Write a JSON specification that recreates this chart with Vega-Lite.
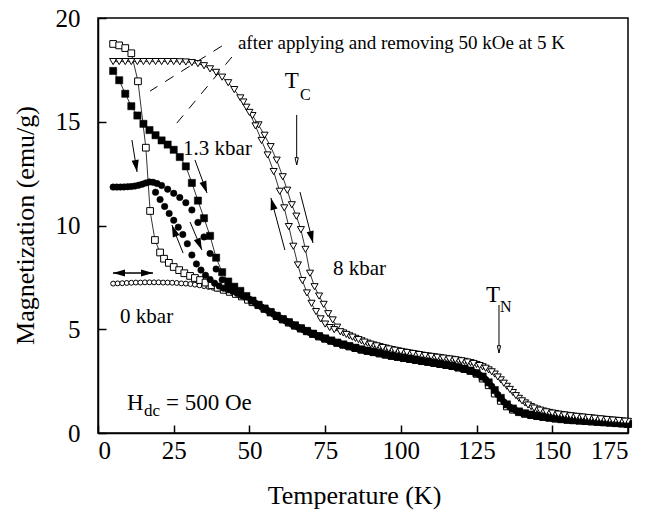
{
"$schema":"https://vega.github.io/schema/vega-lite/v6.json",
"width":530,"height":415,
"autosize":{"type":"none"},
"padding":{"left":98,"top":18,"right":22,"bottom":80},
"config":{"view":{"stroke":"black","strokeWidth":1.5},"font":"'Liberation Serif', 'Times New Roman', 'DejaVu Serif', serif",
"point":{"opacity":1},
"text":{"font":"'Liberation Serif', 'Times New Roman', 'DejaVu Serif', serif","color":"black"},
"axis":{"domainColor":"black","domainWidth":1.5,"tickColor":"black","tickWidth":1.5,"tickSize":-8,"labelColor":"black","titleColor":"black","grid":false,"labelFont":"'Liberation Serif', 'Times New Roman', 'DejaVu Serif', serif","titleFont":"'Liberation Serif', 'Times New Roman', 'DejaVu Serif', serif","labelFontSize":25,"titleFontSize":26,"titleFontWeight":"normal"}},
"datasets":{
"pts":[
{"s":"oc","t":5,"m":7.2},{"s":"oc","t":6.5,"m":7.21},{"s":"oc","t":8,"m":7.22},{"s":"oc","t":9.5,"m":7.23},{"s":"oc","t":11,"m":7.24},{"s":"oc","t":12.5,"m":7.25},{"s":"oc","t":14,"m":7.25},{"s":"oc","t":15.5,"m":7.26},{"s":"oc","t":17,"m":7.26},{"s":"oc","t":18.5,"m":7.26},{"s":"oc","t":20,"m":7.26},{"s":"oc","t":21.5,"m":7.25},{"s":"oc","t":23,"m":7.25},{"s":"oc","t":24.5,"m":7.24},{"s":"oc","t":26,"m":7.23},{"s":"oc","t":27.5,"m":7.21},{"s":"oc","t":29,"m":7.2},{"s":"oc","t":30.5,"m":7.18},{"s":"oc","t":32,"m":7.15},{"s":"oc","t":33.5,"m":7.12},{"s":"oc","t":35,"m":7.08},{"s":"oc","t":36.5,"m":7.04},{"s":"oc","t":38,"m":7.0},{"s":"oc","t":39.5,"m":6.95},{"s":"oc","t":41,"m":6.9},{"s":"oc","t":42.5,"m":6.84},{"s":"oc","t":44,"m":6.77},{"s":"oc","t":45.5,"m":6.69},{"s":"oc","t":47,"m":6.6},{"s":"oc","t":48.5,"m":6.52},{"s":"oc","t":50,"m":6.44},
{"s":"oc","t":52,"m":6.25},{"s":"oc","t":54,"m":6.07},{"s":"oc","t":56,"m":5.9},{"s":"oc","t":58,"m":5.72},{"s":"oc","t":60,"m":5.55},{"s":"oc","t":62,"m":5.4},{"s":"oc","t":64,"m":5.24},{"s":"oc","t":66,"m":5.1},{"s":"oc","t":68,"m":4.96},{"s":"oc","t":70,"m":4.83},{"s":"oc","t":72,"m":4.71},{"s":"oc","t":74,"m":4.6},{"s":"oc","t":76,"m":4.49},{"s":"oc","t":78,"m":4.39},{"s":"oc","t":80,"m":4.3},{"s":"oc","t":82,"m":4.21},{"s":"oc","t":84,"m":4.13},{"s":"oc","t":86,"m":4.05},{"s":"oc","t":88,"m":3.98},{"s":"oc","t":90,"m":3.92},{"s":"oc","t":92,"m":3.86},{"s":"oc","t":94,"m":3.8},{"s":"oc","t":96,"m":3.74},{"s":"oc","t":98,"m":3.69},{"s":"oc","t":100,"m":3.64},{"s":"oc","t":102,"m":3.59},{"s":"oc","t":104,"m":3.54},{"s":"oc","t":106,"m":3.49},{"s":"oc","t":108,"m":3.44},{"s":"oc","t":110,"m":3.4},{"s":"oc","t":112,"m":3.35},{"s":"oc","t":114,"m":3.3},{"s":"oc","t":116,"m":3.25},{"s":"oc","t":118,"m":3.19},{"s":"oc","t":120,"m":3.12},{"s":"oc","t":122,"m":3.04},{"s":"oc","t":124,"m":2.94},{"s":"oc","t":126,"m":2.8},{"s":"oc","t":128,"m":2.58},{"s":"oc","t":130,"m":2.25},{"s":"oc","t":132,"m":1.85},{"s":"oc","t":134,"m":1.5},{"s":"oc","t":136,"m":1.25},{"s":"oc","t":138,"m":1.08},{"s":"oc","t":140,"m":0.97},{"s":"oc","t":142,"m":0.9},{"s":"oc","t":144,"m":0.84},{"s":"oc","t":146,"m":0.79},{"s":"oc","t":148,"m":0.75},{"s":"oc","t":150,"m":0.71},{"s":"oc","t":152,"m":0.68},{"s":"oc","t":154,"m":0.65},{"s":"oc","t":156,"m":0.62},{"s":"oc","t":158,"m":0.6},{"s":"oc","t":160,"m":0.58},{"s":"oc","t":162,"m":0.56},{"s":"oc","t":164,"m":0.54},{"s":"oc","t":166,"m":0.52},{"s":"oc","t":168,"m":0.5},{"s":"oc","t":170,"m":0.48},{"s":"oc","t":172,"m":0.46},{"s":"oc","t":174,"m":0.44},
{"s":"os","t":5,"m":18.75},{"s":"os","t":7,"m":18.68},{"s":"os","t":9,"m":18.55},{"s":"os","t":11,"m":18.3},{"s":"os","t":13.2,"m":16.95},{"s":"os","t":15.8,"m":13.75},{"s":"os","t":17.2,"m":10.7},{"s":"os","t":18.8,"m":9.3},{"s":"os","t":20.5,"m":8.7},{"s":"os","t":21.8,"m":8.4},{"s":"os","t":23.4,"m":8.2},{"s":"os","t":25,"m":8.0},{"s":"os","t":26.8,"m":7.85},{"s":"os","t":28.5,"m":7.7},{"s":"os","t":30.4,"m":7.57},{"s":"os","t":32,"m":7.47},{"s":"os","t":33.7,"m":7.37},{"s":"os","t":35.5,"m":7.25},{"s":"os","t":37.5,"m":7.12},{"s":"os","t":39.5,"m":7.0},{"s":"os","t":41.5,"m":6.9},{"s":"os","t":43.5,"m":6.8},{"s":"os","t":45.5,"m":6.7},{"s":"os","t":47.5,"m":6.58},{"s":"os","t":49.5,"m":6.42},{"s":"os","t":51,"m":6.3},
{"s":"os","t":53,"m":6.16},{"s":"os","t":55,"m":5.98},{"s":"os","t":57,"m":5.81},{"s":"os","t":59,"m":5.63},{"s":"os","t":61,"m":5.47},{"s":"os","t":63,"m":5.32},{"s":"os","t":65,"m":5.17},{"s":"os","t":67,"m":5.03},{"s":"os","t":69,"m":4.9},{"s":"os","t":71,"m":4.77},{"s":"os","t":73,"m":4.65},{"s":"os","t":75,"m":4.54},{"s":"os","t":77,"m":4.44},{"s":"os","t":79,"m":4.34},{"s":"os","t":81,"m":4.25},{"s":"os","t":83,"m":4.17},{"s":"os","t":85,"m":4.09},{"s":"os","t":87,"m":4.01},{"s":"os","t":89,"m":3.95},{"s":"os","t":91,"m":3.89},{"s":"os","t":93,"m":3.83},{"s":"os","t":95,"m":3.77},{"s":"os","t":97,"m":3.71},{"s":"os","t":99,"m":3.66},{"s":"os","t":101,"m":3.61},{"s":"os","t":103,"m":3.56},{"s":"os","t":105,"m":3.51},{"s":"os","t":107,"m":3.46},{"s":"os","t":109,"m":3.42},{"s":"os","t":111,"m":3.37},{"s":"os","t":113,"m":3.32},{"s":"os","t":115,"m":3.27},{"s":"os","t":117,"m":3.22},{"s":"os","t":119,"m":3.15},{"s":"os","t":121,"m":3.08},{"s":"os","t":123,"m":2.99},{"s":"os","t":125,"m":2.85},{"s":"os","t":127,"m":2.62},{"s":"os","t":129,"m":2.3},{"s":"os","t":131,"m":1.9},{"s":"os","t":133,"m":1.55},{"s":"os","t":135,"m":1.28},{"s":"os","t":137,"m":1.12},{"s":"os","t":139,"m":1.0},{"s":"os","t":141,"m":0.92},{"s":"os","t":143,"m":0.86},{"s":"os","t":145,"m":0.81},{"s":"os","t":147,"m":0.77},{"s":"os","t":149,"m":0.73},{"s":"os","t":151,"m":0.69},{"s":"os","t":153,"m":0.66},{"s":"os","t":155,"m":0.63},{"s":"os","t":157,"m":0.61},{"s":"os","t":159,"m":0.59},{"s":"os","t":161,"m":0.57},{"s":"os","t":163,"m":0.55},{"s":"os","t":165,"m":0.53},{"s":"os","t":167,"m":0.51},{"s":"os","t":169,"m":0.49},{"s":"os","t":171,"m":0.47},{"s":"os","t":173,"m":0.45},{"s":"os","t":175,"m":0.43},
{"s":"fc","t":5,"m":11.85},{"s":"fc","t":6.2,"m":11.85},{"s":"fc","t":7.4,"m":11.85},{"s":"fc","t":8.6,"m":11.86},{"s":"fc","t":9.8,"m":11.87},{"s":"fc","t":11,"m":11.88},{"s":"fc","t":12.2,"m":11.9},{"s":"fc","t":13.4,"m":11.94},{"s":"fc","t":14.6,"m":11.99},{"s":"fc","t":15.8,"m":12.05},{"s":"fc","t":17,"m":12.1},{"s":"fc","t":18.2,"m":12.08},
{"s":"fc","t":19,"m":11.6},{"s":"fc","t":20.5,"m":11.25},{"s":"fc","t":22,"m":10.92},{"s":"fc","t":23.5,"m":10.58},{"s":"fc","t":25,"m":10.25},{"s":"fc","t":26.5,"m":9.92},{"s":"fc","t":28,"m":9.57},{"s":"fc","t":29.5,"m":9.12},{"s":"fc","t":31,"m":8.58},{"s":"fc","t":32.5,"m":8.15},{"s":"fc","t":34,"m":7.85},{"s":"fc","t":35.5,"m":7.6},{"s":"fc","t":37,"m":7.4},{"s":"fc","t":38.5,"m":7.22},{"s":"fc","t":40,"m":7.08},{"s":"fc","t":41.5,"m":6.98},{"s":"fc","t":43,"m":6.9},{"s":"fc","t":44.5,"m":6.82},{"s":"fc","t":46,"m":6.72},{"s":"fc","t":47.5,"m":6.62},
{"s":"fc","t":19.5,"m":12.02},{"s":"fc","t":21,"m":11.93},{"s":"fc","t":23,"m":11.75},{"s":"fc","t":25,"m":11.55},{"s":"fc","t":27,"m":11.35},{"s":"fc","t":29,"m":11.1},{"s":"fc","t":31,"m":10.75},{"s":"fc","t":33,"m":10.15},{"s":"fc","t":35,"m":9.45},{"s":"fc","t":37,"m":8.65},{"s":"fc","t":39,"m":7.9},{"s":"fc","t":41,"m":7.38},{"s":"fc","t":43,"m":7.08},{"s":"fc","t":45,"m":6.9},{"s":"fc","t":47,"m":6.74},{"s":"fc","t":49,"m":6.55},{"s":"fc","t":50.5,"m":6.4},
{"s":"fc","t":52,"m":6.25},{"s":"fc","t":54,"m":6.07},{"s":"fc","t":56,"m":5.9},{"s":"fc","t":58,"m":5.72},{"s":"fc","t":60,"m":5.55},{"s":"fc","t":62,"m":5.4},{"s":"fc","t":64,"m":5.24},{"s":"fc","t":66,"m":5.1},{"s":"fc","t":68,"m":4.96},{"s":"fc","t":70,"m":4.83},{"s":"fc","t":72,"m":4.71},{"s":"fc","t":74,"m":4.6},{"s":"fc","t":76,"m":4.49},{"s":"fc","t":78,"m":4.39},{"s":"fc","t":80,"m":4.3},{"s":"fc","t":82,"m":4.21},{"s":"fc","t":84,"m":4.13},{"s":"fc","t":86,"m":4.05},{"s":"fc","t":88,"m":3.98},{"s":"fc","t":90,"m":3.92},{"s":"fc","t":92,"m":3.86},{"s":"fc","t":94,"m":3.8},{"s":"fc","t":96,"m":3.74},{"s":"fc","t":98,"m":3.69},{"s":"fc","t":100,"m":3.64},{"s":"fc","t":102,"m":3.59},{"s":"fc","t":104,"m":3.54},{"s":"fc","t":106,"m":3.49},{"s":"fc","t":108,"m":3.44},{"s":"fc","t":110,"m":3.4},{"s":"fc","t":112,"m":3.35},{"s":"fc","t":114,"m":3.3},{"s":"fc","t":116,"m":3.25},{"s":"fc","t":118,"m":3.19},{"s":"fc","t":120,"m":3.12},{"s":"fc","t":122,"m":3.04},{"s":"fc","t":124,"m":2.94},{"s":"fc","t":126,"m":2.8},{"s":"fc","t":128,"m":2.58},{"s":"fc","t":130,"m":2.25},{"s":"fc","t":132,"m":1.85},{"s":"fc","t":134,"m":1.5},{"s":"fc","t":136,"m":1.25},{"s":"fc","t":138,"m":1.08},{"s":"fc","t":140,"m":0.97},{"s":"fc","t":142,"m":0.9},{"s":"fc","t":144,"m":0.84},{"s":"fc","t":146,"m":0.79},{"s":"fc","t":148,"m":0.75},{"s":"fc","t":150,"m":0.71},{"s":"fc","t":152,"m":0.68},{"s":"fc","t":154,"m":0.65},{"s":"fc","t":156,"m":0.62},{"s":"fc","t":158,"m":0.6},{"s":"fc","t":160,"m":0.58},{"s":"fc","t":162,"m":0.56},{"s":"fc","t":164,"m":0.54},{"s":"fc","t":166,"m":0.52},{"s":"fc","t":168,"m":0.5},{"s":"fc","t":170,"m":0.48},{"s":"fc","t":172,"m":0.46},{"s":"fc","t":174,"m":0.44},
{"s":"fs","t":5,"m":17.45},{"s":"fs","t":7,"m":17.0},{"s":"fs","t":9,"m":16.35},{"s":"fs","t":11,"m":15.75},{"s":"fs","t":13,"m":15.3},{"s":"fs","t":15,"m":14.9},{"s":"fs","t":17,"m":14.6},{"s":"fs","t":19,"m":14.35},{"s":"fs","t":21,"m":14.1},{"s":"fs","t":23,"m":13.9},{"s":"fs","t":25,"m":13.65},{"s":"fs","t":27,"m":13.3},{"s":"fs","t":29,"m":12.85},{"s":"fs","t":31,"m":12.05},{"s":"fs","t":33,"m":11.2},{"s":"fs","t":35,"m":10.35},{"s":"fs","t":37,"m":9.5},{"s":"fs","t":39,"m":8.45},{"s":"fs","t":41,"m":7.75},{"s":"fs","t":43,"m":7.3},{"s":"fs","t":45,"m":7.05},{"s":"fs","t":47,"m":6.85},{"s":"fs","t":49,"m":6.6},{"s":"fs","t":51,"m":6.38},
{"s":"fs","t":53,"m":6.18},{"s":"fs","t":55,"m":6.0},{"s":"fs","t":57,"m":5.83},{"s":"fs","t":59,"m":5.65},{"s":"fs","t":61,"m":5.49},{"s":"fs","t":63,"m":5.34},{"s":"fs","t":65,"m":5.19},{"s":"fs","t":67,"m":5.05},{"s":"fs","t":69,"m":4.92},{"s":"fs","t":71,"m":4.79},{"s":"fs","t":73,"m":4.67},{"s":"fs","t":75,"m":4.56},{"s":"fs","t":77,"m":4.46},{"s":"fs","t":79,"m":4.36},{"s":"fs","t":81,"m":4.27},{"s":"fs","t":83,"m":4.19},{"s":"fs","t":85,"m":4.11},{"s":"fs","t":87,"m":4.03},{"s":"fs","t":89,"m":3.97},{"s":"fs","t":91,"m":3.91},{"s":"fs","t":93,"m":3.85},{"s":"fs","t":95,"m":3.79},{"s":"fs","t":97,"m":3.73},{"s":"fs","t":99,"m":3.68},{"s":"fs","t":101,"m":3.63},{"s":"fs","t":103,"m":3.58},{"s":"fs","t":105,"m":3.53},{"s":"fs","t":107,"m":3.48},{"s":"fs","t":109,"m":3.44},{"s":"fs","t":111,"m":3.39},{"s":"fs","t":113,"m":3.34},{"s":"fs","t":115,"m":3.29},{"s":"fs","t":117,"m":3.24},{"s":"fs","t":119,"m":3.17},{"s":"fs","t":121,"m":3.1},{"s":"fs","t":123,"m":3.01},{"s":"fs","t":125,"m":2.89},{"s":"fs","t":127,"m":2.72},{"s":"fs","t":129,"m":2.44},{"s":"fs","t":131,"m":2.07},{"s":"fs","t":133,"m":1.69},{"s":"fs","t":135,"m":1.38},{"s":"fs","t":137,"m":1.18},{"s":"fs","t":139,"m":1.04},{"s":"fs","t":141,"m":0.95},{"s":"fs","t":143,"m":0.89},{"s":"fs","t":145,"m":0.83},{"s":"fs","t":147,"m":0.79},{"s":"fs","t":149,"m":0.75},{"s":"fs","t":151,"m":0.71},{"s":"fs","t":153,"m":0.68},{"s":"fs","t":155,"m":0.65},{"s":"fs","t":157,"m":0.63},{"s":"fs","t":159,"m":0.61},{"s":"fs","t":161,"m":0.59},{"s":"fs","t":163,"m":0.57},{"s":"fs","t":165,"m":0.55},{"s":"fs","t":167,"m":0.53},{"s":"fs","t":169,"m":0.51},{"s":"fs","t":171,"m":0.49},{"s":"fs","t":173,"m":0.47},{"s":"fs","t":175,"m":0.45},
{"s":"tw","t":5,"m":17.9},{"s":"tw","t":7,"m":17.9},{"s":"tw","t":9,"m":17.9},{"s":"tw","t":11,"m":17.9},{"s":"tw","t":13,"m":17.9},{"s":"tw","t":15,"m":17.9},{"s":"tw","t":17,"m":17.9},{"s":"tw","t":19,"m":17.9},{"s":"tw","t":21,"m":17.9},{"s":"tw","t":23,"m":17.9},{"s":"tw","t":25,"m":17.9},{"s":"tw","t":27,"m":17.89},{"s":"tw","t":29,"m":17.88},{"s":"tw","t":31,"m":17.85},{"s":"tw","t":33,"m":17.8},{"s":"tw","t":35,"m":17.7},{"s":"tw","t":37,"m":17.55},{"s":"tw","t":39,"m":17.38},{"s":"tw","t":41,"m":17.15},{"s":"tw","t":43,"m":16.88},{"s":"tw","t":45,"m":16.55},{"s":"tw","t":47,"m":16.15},{"s":"tw","t":49,"m":15.7},
{"s":"tw","t":51,"m":15.3},{"s":"tw","t":53,"m":14.85},{"s":"tw","t":55,"m":14.35},{"s":"tw","t":57,"m":13.8},{"s":"tw","t":59,"m":13.15},{"s":"tw","t":61,"m":12.35},{"s":"tw","t":62.5,"m":11.7},{"s":"tw","t":64,"m":11.0},{"s":"tw","t":65.5,"m":10.45},{"s":"tw","t":67,"m":9.8},{"s":"tw","t":68.5,"m":8.85},{"s":"tw","t":70,"m":7.7},{"s":"tw","t":71.5,"m":7.05},{"s":"tw","t":73,"m":6.6},{"s":"tw","t":74.5,"m":6.2},{"s":"tw","t":76,"m":5.75},{"s":"tw","t":77.5,"m":5.45},{"s":"tw","t":79,"m":5.1},
{"s":"tw","t":81,"m":4.82},{"s":"tw","t":83,"m":4.68},{"s":"tw","t":85,"m":4.56},{"s":"tw","t":87,"m":4.44},{"s":"tw","t":89,"m":4.33},{"s":"tw","t":91,"m":4.24},{"s":"tw","t":93,"m":4.16},{"s":"tw","t":95,"m":4.09},{"s":"tw","t":97,"m":4.02},{"s":"tw","t":99,"m":3.96},{"s":"tw","t":101,"m":3.9},{"s":"tw","t":103,"m":3.85},{"s":"tw","t":105,"m":3.8},{"s":"tw","t":107,"m":3.75},{"s":"tw","t":109,"m":3.71},{"s":"tw","t":111,"m":3.67},{"s":"tw","t":113,"m":3.63},{"s":"tw","t":115,"m":3.59},{"s":"tw","t":117,"m":3.55},{"s":"tw","t":119,"m":3.5},{"s":"tw","t":121,"m":3.45},{"s":"tw","t":123,"m":3.39},{"s":"tw","t":125,"m":3.3},{"s":"tw","t":127,"m":3.19},{"s":"tw","t":129,"m":3.04},{"s":"tw","t":131,"m":2.84},{"s":"tw","t":133,"m":2.56},{"s":"tw","t":135,"m":2.25},{"s":"tw","t":137,"m":1.95},{"s":"tw","t":139,"m":1.67},{"s":"tw","t":141,"m":1.45},{"s":"tw","t":143,"m":1.27},{"s":"tw","t":145,"m":1.15},{"s":"tw","t":147,"m":1.06},{"s":"tw","t":149,"m":0.99},{"s":"tw","t":151,"m":0.94},{"s":"tw","t":153,"m":0.89},{"s":"tw","t":155,"m":0.85},{"s":"tw","t":157,"m":0.81},{"s":"tw","t":159,"m":0.78},{"s":"tw","t":161,"m":0.75},{"s":"tw","t":163,"m":0.72},{"s":"tw","t":165,"m":0.69},{"s":"tw","t":167,"m":0.66},{"s":"tw","t":169,"m":0.63},{"s":"tw","t":171,"m":0.61},{"s":"tw","t":173,"m":0.58},{"s":"tw","t":175,"m":0.56},
{"s":"tc","t":48,"m":15.95},{"s":"tc","t":50,"m":15.45},{"s":"tc","t":52,"m":14.8},{"s":"tc","t":54,"m":14.1},{"s":"tc","t":56,"m":13.4},{"s":"tc","t":58,"m":12.6},{"s":"tc","t":60,"m":11.65},{"s":"tc","t":61.5,"m":10.85},{"s":"tc","t":63,"m":9.95},{"s":"tc","t":64.5,"m":9.0},{"s":"tc","t":66,"m":8.1},{"s":"tc","t":67.5,"m":7.35},{"s":"tc","t":69,"m":6.75},{"s":"tc","t":70.5,"m":6.25},{"s":"tc","t":72,"m":5.85},{"s":"tc","t":73.5,"m":5.5},{"s":"tc","t":75,"m":5.25},{"s":"tc","t":76.5,"m":5.08},{"s":"tc","t":78,"m":4.98},{"s":"tc","t":80,"m":4.88},{"s":"tc","t":82,"m":4.75},{"s":"tc","t":84,"m":4.62},
{"s":"tc","t":86,"m":4.5},{"s":"tc","t":88,"m":4.38},{"s":"tc","t":90,"m":4.28},{"s":"tc","t":92,"m":4.2},{"s":"tc","t":94,"m":4.12},{"s":"tc","t":96,"m":4.05},{"s":"tc","t":98,"m":3.99},{"s":"tc","t":100,"m":3.93},{"s":"tc","t":102,"m":3.88},{"s":"tc","t":104,"m":3.83},{"s":"tc","t":106,"m":3.78},{"s":"tc","t":108,"m":3.73},{"s":"tc","t":110,"m":3.69},{"s":"tc","t":112,"m":3.65},{"s":"tc","t":114,"m":3.61},{"s":"tc","t":116,"m":3.57},{"s":"tc","t":118,"m":3.53},{"s":"tc","t":120,"m":3.48},{"s":"tc","t":122,"m":3.42},{"s":"tc","t":124,"m":3.35},{"s":"tc","t":126,"m":3.25},{"s":"tc","t":128,"m":3.12},{"s":"tc","t":130,"m":2.95},{"s":"tc","t":132,"m":2.7},{"s":"tc","t":134,"m":2.4},{"s":"tc","t":136,"m":2.1},{"s":"tc","t":138,"m":1.8},{"s":"tc","t":140,"m":1.55},{"s":"tc","t":142,"m":1.35},{"s":"tc","t":144,"m":1.2},{"s":"tc","t":146,"m":1.1},{"s":"tc","t":148,"m":1.02},{"s":"tc","t":150,"m":0.96},{"s":"tc","t":152,"m":0.91},{"s":"tc","t":154,"m":0.87},{"s":"tc","t":156,"m":0.83},{"s":"tc","t":158,"m":0.8},{"s":"tc","t":160,"m":0.77},{"s":"tc","t":162,"m":0.74},{"s":"tc","t":164,"m":0.71},{"s":"tc","t":166,"m":0.68},{"s":"tc","t":168,"m":0.65},{"s":"tc","t":170,"m":0.62},{"s":"tc","t":172,"m":0.6},{"s":"tc","t":174,"m":0.57}
],
"arr":[
{"id":"a1","x":11.2,"y":14.12,"x2":12.9,"y2":12.58,"head":"solid"},
{"id":"a2","x":32.0,"y":13.16,"x2":36.0,"y2":11.57,"head":"solid"},
{"id":"a3","x":30.4,"y":10.17,"x2":34.3,"y2":8.82,"head":"solid"},
{"id":"a4","x":28.1,"y":8.67,"x2":24.4,"y2":10.02,"head":"solid"},
{"id":"a5","x":61.7,"y":8.82,"x2":57.1,"y2":11.33,"head":"solid"},
{"id":"a6","x":66.7,"y":11.61,"x2":71.0,"y2":9.16,"head":"solid"},
{"id":"a7r","x":4.95,"y":7.71,"x2":18.16,"y2":7.71,"head":"solid"},
{"id":"a7l","x":18.16,"y":7.71,"x2":4.95,"y2":7.71,"head":"solid"},
{"id":"tc","x":65.6,"y":15.33,"x2":65.6,"y2":12.92,"head":"open"},
{"id":"tn","x":132.4,"y":6.17,"x2":132.4,"y2":3.86,"head":"open"}
],
"dash":[
{"x":40.9,"y":18.65,"x2":17.2,"y2":16.48},
{"x":44.2,"y":18.12,"x2":24.4,"y2":14.65}
],
"txt":[
{"g":"long","label":"after applying and removing 50 kOe at 5 K","t":46.2,"m":18.5},
{"g":"lab","label":"1.3 kbar","t":28.1,"m":13.4},
{"g":"lab","label":"8 kbar","t":77.6,"m":7.61},
{"g":"lab","label":"0 kbar","t":7.3,"m":5.3},
{"g":"h","label":"H","t":9.57,"m":1.12},
{"g":"h","label":"= 500 Oe","t":22.45,"m":1.12},
{"g":"hs","label":"dc","t":15.2,"m":0.82},
{"g":"big","label":"T","t":61.7,"m":16.63},
{"g":"sub","label":"C","t":66.7,"m":16.05},
{"g":"big","label":"T","t":128.1,"m":6.31},
{"g":"sub","label":"N","t":132.7,"m":5.83}
]
},
"layer":[
{"data":{"name":"pts"},"transform":[{"filter":"indexof(['os','fs','tw','tc'], datum.s) >= 0"}],
 "mark":{"type":"line","color":"black","strokeWidth":0.8},
 "encoding":{"x":{"field":"t","type":"quantitative","scale":{"domain":[0,175],"nice":false},
   "axis":{"values":[0,25,50,75,100,125,150,175],"title":"Temperature (K)","labelPadding":13,"titleX":256,"titleY":70,"titleBaseline":"alphabetic"}},
  "y":{"field":"m","type":"quantitative","scale":{"domain":[0,20],"nice":false},
   "axis":{"values":[0,5,10,15,20],"title":"Magnetization (emu/g)","labelPadding":26,"titleX":-65,"titleY":207,"titleBaseline":"alphabetic"}},
  "detail":{"field":"s"}}},
{"data":{"name":"pts"},"transform":[{"filter":"datum.s == 'oc'"}],
 "mark":{"type":"point","shape":"circle","filled":true,"fill":"white","stroke":"black","strokeWidth":1,"size":24,"opacity":1},
 "encoding":{"x":{"field":"t","type":"quantitative"},"y":{"field":"m","type":"quantitative"}}},
{"data":{"name":"pts"},"transform":[{"filter":"datum.s == 'os'"}],
 "mark":{"type":"point","shape":"square","filled":true,"fill":"white","stroke":"black","strokeWidth":1,"size":45,"opacity":1},
 "encoding":{"x":{"field":"t","type":"quantitative"},"y":{"field":"m","type":"quantitative"}}},
{"data":{"name":"pts"},"transform":[{"filter":"datum.s == 'fc'"}],
 "mark":{"type":"point","shape":"circle","filled":true,"fill":"black","stroke":"black","strokeWidth":0.5,"size":42,"opacity":1},
 "encoding":{"x":{"field":"t","type":"quantitative"},"y":{"field":"m","type":"quantitative"}}},
{"data":{"name":"pts"},"transform":[{"filter":"datum.s == 'fs'"}],
 "mark":{"type":"point","shape":"square","filled":true,"fill":"black","stroke":"black","strokeWidth":0.5,"size":52,"opacity":1},
 "encoding":{"x":{"field":"t","type":"quantitative"},"y":{"field":"m","type":"quantitative"}}},
{"data":{"name":"pts"},"transform":[{"filter":"datum.s == 'tw' || datum.s == 'tc'"}],
 "mark":{"type":"point","shape":"triangle-down","filled":true,"fill":"white","stroke":"black","strokeWidth":1,"size":50,"opacity":1},
 "encoding":{"x":{"field":"t","type":"quantitative"},"y":{"field":"m","type":"quantitative"}}},
{"data":{"name":"dash"},
 "mark":{"type":"rule","color":"black","strokeWidth":1,"strokeDash":[10,9]},
 "encoding":{"x":{"field":"x","type":"quantitative"},"y":{"field":"y","type":"quantitative"},"x2":{"field":"x2"},"y2":{"field":"y2"}}},
{"data":{"name":"arr"},
 "mark":{"type":"rule","color":"black","strokeWidth":1},
 "encoding":{"x":{"field":"x","type":"quantitative"},"y":{"field":"y","type":"quantitative"},"x2":{"field":"x2"},"y2":{"field":"y2"}}},
{"data":{"name":"arr"},"transform":[{"filter":"datum.id == 'a1'"}],
 "mark":{"type":"point","shape":"M0,0L-0.6,2L0.6,2Z","filled":true,"fill":"black","strokeWidth":0,"size":144,"opacity":1,"angle":171},
 "encoding":{"x":{"field":"x2","type":"quantitative"},"y":{"field":"y2","type":"quantitative"}}},
{"data":{"name":"arr"},"transform":[{"filter":"datum.id == 'a2'"}],
 "mark":{"type":"point","shape":"M0,0L-0.6,2L0.6,2Z","filled":true,"fill":"black","strokeWidth":0,"size":144,"opacity":1,"angle":160},
 "encoding":{"x":{"field":"x2","type":"quantitative"},"y":{"field":"y2","type":"quantitative"}}},
{"data":{"name":"arr"},"transform":[{"filter":"datum.id == 'a3'"}],
 "mark":{"type":"point","shape":"M0,0L-0.6,2L0.6,2Z","filled":true,"fill":"black","strokeWidth":0,"size":144,"opacity":1,"angle":157},
 "encoding":{"x":{"field":"x2","type":"quantitative"},"y":{"field":"y2","type":"quantitative"}}},
{"data":{"name":"arr"},"transform":[{"filter":"datum.id == 'a4'"}],
 "mark":{"type":"point","shape":"M0,0L-0.6,2L0.6,2Z","filled":true,"fill":"black","strokeWidth":0,"size":144,"opacity":1,"angle":339},
 "encoding":{"x":{"field":"x2","type":"quantitative"},"y":{"field":"y2","type":"quantitative"}}},
{"data":{"name":"arr"},"transform":[{"filter":"datum.id == 'a5'"}],
 "mark":{"type":"point","shape":"M0,0L-0.6,2L0.6,2Z","filled":true,"fill":"black","strokeWidth":0,"size":144,"opacity":1,"angle":345},
 "encoding":{"x":{"field":"x2","type":"quantitative"},"y":{"field":"y2","type":"quantitative"}}},
{"data":{"name":"arr"},"transform":[{"filter":"datum.id == 'a6'"}],
 "mark":{"type":"point","shape":"M0,0L-0.6,2L0.6,2Z","filled":true,"fill":"black","strokeWidth":0,"size":144,"opacity":1,"angle":166},
 "encoding":{"x":{"field":"x2","type":"quantitative"},"y":{"field":"y2","type":"quantitative"}}},
{"data":{"name":"arr"},"transform":[{"filter":"datum.id == 'a7r'"}],
 "mark":{"type":"point","shape":"M0,0L-0.6,2L0.6,2Z","filled":true,"fill":"black","strokeWidth":0,"size":144,"opacity":1,"angle":90},
 "encoding":{"x":{"field":"x2","type":"quantitative"},"y":{"field":"y2","type":"quantitative"}}},
{"data":{"name":"arr"},"transform":[{"filter":"datum.id == 'a7l'"}],
 "mark":{"type":"point","shape":"M0,0L-0.6,2L0.6,2Z","filled":true,"fill":"black","strokeWidth":0,"size":144,"opacity":1,"angle":270},
 "encoding":{"x":{"field":"x2","type":"quantitative"},"y":{"field":"y2","type":"quantitative"}}},
{"data":{"name":"arr"},"transform":[{"filter":"datum.head == 'open'"}],
 "mark":{"type":"point","shape":"M0,0L-0.55,2.4L0.55,2.4Z","filled":true,"fill":"white","stroke":"black","strokeWidth":1,"size":36,"angle":180,"opacity":1},
 "encoding":{"x":{"field":"x2","type":"quantitative"},"y":{"field":"y2","type":"quantitative"}}},
{"data":{"name":"txt"},"transform":[{"filter":"datum.g == 'long'"}],
 "mark":{"type":"text","align":"left","baseline":"alphabetic","fontSize":19},
 "encoding":{"x":{"field":"t","type":"quantitative"},"y":{"field":"m","type":"quantitative"},"text":{"field":"label"}}},
{"data":{"name":"txt"},"transform":[{"filter":"datum.g == 'lab'"}],
 "mark":{"type":"text","align":"left","baseline":"alphabetic","fontSize":21},
 "encoding":{"x":{"field":"t","type":"quantitative"},"y":{"field":"m","type":"quantitative"},"text":{"field":"label"}}},
{"data":{"name":"txt"},"transform":[{"filter":"datum.g == 'h'"}],
 "mark":{"type":"text","align":"left","baseline":"alphabetic","fontSize":23},
 "encoding":{"x":{"field":"t","type":"quantitative"},"y":{"field":"m","type":"quantitative"},"text":{"field":"label"}}},
{"data":{"name":"txt"},"transform":[{"filter":"datum.g == 'hs'"}],
 "mark":{"type":"text","align":"left","baseline":"alphabetic","fontSize":17},
 "encoding":{"x":{"field":"t","type":"quantitative"},"y":{"field":"m","type":"quantitative"},"text":{"field":"label"}}},
{"data":{"name":"txt"},"transform":[{"filter":"datum.g == 'sub'"}],
 "mark":{"type":"text","align":"left","baseline":"alphabetic","fontSize":16},
 "encoding":{"x":{"field":"t","type":"quantitative"},"y":{"field":"m","type":"quantitative"},"text":{"field":"label"}}},
{"data":{"name":"txt"},"transform":[{"filter":"datum.g == 'big'"}],
 "mark":{"type":"text","align":"left","baseline":"alphabetic","fontSize":23},
 "encoding":{"x":{"field":"t","type":"quantitative"},"y":{"field":"m","type":"quantitative"},"text":{"field":"label"}}}
]
}
